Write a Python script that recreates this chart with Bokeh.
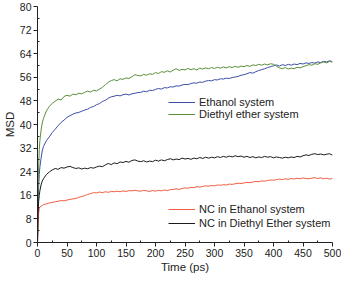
from bokeh.plotting import figure
from bokeh.models import Range1d, FixedTicker, Legend, LegendItem
from bokeh.embed import file_html
from bokeh.resources import INLINE

time_ps = [0, 1, 2, 3, 4, 6, 8,
           10, 15, 20, 25, 30, 35, 40, 45, 50, 55,
           60, 65, 70, 75, 80, 85, 90, 95, 100, 105,
           110, 115, 120, 125, 130, 135, 140, 145, 150, 155,
           160, 165, 170, 175, 180, 185, 190, 195, 200, 205,
           210, 215, 220, 225, 230, 235, 240, 245, 250, 255,
           260, 265, 270, 275, 280, 285, 290, 295, 300, 305,
           310, 315, 320, 325, 330, 335, 340, 345, 350, 355,
           360, 365, 370, 375, 380, 385, 390, 395, 400, 405,
           410, 415, 420, 425, 430, 435, 440, 445, 450, 455,
           460, 465, 470, 475, 480, 485, 490, 495, 500]

ethanol = [0, 12, 19, 23, 25.5, 28.5, 31,
           32.5, 34.5, 35.8, 37.3, 38.4, 39.6, 40.7, 41.5, 42.4, 43.0,
           43.5, 43.9, 44.1, 44.5, 44.9, 45.2, 45.8, 46.1, 46.7, 47.1,
           47.8, 48.2, 48.9, 49.4, 49.6, 49.9, 49.7, 50.1, 50.3, 50.0,
           50.4, 50.6, 50.8, 50.9, 51.3, 51.1, 51.6, 51.5, 51.9, 52.2,
           52.0, 52.5, 52.4, 52.8, 52.7, 53.1, 53.0, 53.4, 53.6, 53.5,
           53.9, 54.1, 54.0, 54.4, 54.3, 54.7, 54.9, 54.8, 55.2, 55.1,
           55.5, 55.4, 55.7, 55.6, 55.9, 56.1, 56.3, 56.7, 56.9, 57.2,
           57.6, 57.4, 57.9, 58.3, 58.6, 58.9, 59.3, 59.6, 59.9, 60.2,
           59.8, 60.3, 60.0, 60.4, 60.1, 60.5, 60.3, 60.7, 60.5, 60.9,
           60.7, 61.0, 60.8, 61.2, 61.0, 61.4, 61.2, 61.6, 61.3]

diethyl_ether = [0, 17, 26, 31.5, 34.5, 38, 40.5,
                 42, 44.6, 46.1, 47.2, 47.9, 48.6, 48.3, 49.5, 49.9, 49.6,
                 50.3, 50.1, 50.6, 50.4, 50.9, 51.3, 51.0, 51.6, 51.4, 52.0,
                 52.6, 53.5, 54.3, 54.9, 55.2, 54.8, 55.5, 55.3, 55.8, 55.6,
                 56.2, 56.9, 56.6, 56.5, 57.0, 56.7, 57.2, 57.0, 57.6, 57.3,
                 57.9, 57.7, 58.2, 57.8, 58.4, 58.9, 58.3, 58.7, 58.5, 59.0,
                 58.6, 58.9, 58.5, 59.1, 58.8, 59.2, 58.9, 59.3, 59.0, 59.4,
                 59.1, 59.5, 59.2, 59.6, 59.3, 59.7, 59.4, 59.8, 59.6, 60.0,
                 59.7, 60.2, 60.0, 60.4, 60.1, 60.5, 60.2, 60.6, 60.4, 59.8,
                 59.2, 58.9, 59.3, 58.8, 59.1, 58.9, 59.4, 59.2, 59.6, 59.9,
                 60.3, 60.1, 60.6, 60.4, 60.9, 61.2, 60.9, 61.4, 61.1]

nc_ethanol = [0, 6, 10, 11.5, 12.0, 12.3, 12.6,
              12.8, 13.1, 13.4, 13.6, 13.8, 14.0, 14.2, 14.1, 14.4, 14.6,
              14.8, 14.9, 15.3, 15.6, 15.9, 16.3, 16.6, 16.9, 16.8, 17.1,
              16.9, 17.2, 17.0, 17.3, 17.2, 17.4, 17.2, 17.5, 17.3, 17.6,
              17.5, 17.7, 17.5, 17.4, 17.7, 17.5, 17.3, 17.6, 17.4, 17.7,
              17.5, 17.8, 17.6, 17.9, 18.0, 18.2, 18.0, 18.3, 18.5, 18.4,
              18.7, 18.6, 18.9, 18.8, 19.0, 19.2, 19.1, 19.3, 19.2, 19.5,
              19.4, 19.6, 19.5, 19.8, 19.7, 19.9, 20.1, 20.0, 20.2, 20.4,
              20.3, 20.5, 20.7, 20.6, 20.9, 20.8, 21.0, 21.2, 21.1, 21.3,
              21.5, 21.3, 21.6, 21.4, 21.7, 21.5, 21.8, 21.6, 21.9, 21.7,
              21.6, 21.8, 22.0, 21.7, 21.9, 21.6, 21.8, 21.5, 21.7]

nc_diethyl_ether = [0, 10, 14, 16, 17.5, 19.5, 20.8,
                    21.6, 23.0, 23.9, 24.6, 25.1, 24.8, 25.4, 25.2, 25.6, 25.8,
                    25.4, 25.1, 25.3, 24.9, 25.2, 25.0, 25.4, 25.2, 25.6, 25.9,
                    25.7, 26.3, 26.8, 26.4, 27.0, 26.7, 27.3, 27.1, 27.5, 27.2,
                    27.8, 28.0, 27.6, 27.4, 27.7, 27.3, 27.6, 27.4, 27.9, 27.6,
                    28.0, 27.7, 28.1, 28.4, 28.0, 28.3, 28.1, 28.6, 28.3, 28.5,
                    28.2, 28.6, 28.4, 28.8, 28.5, 28.9, 28.6, 28.9, 28.7, 29.1,
                    28.8, 29.2, 28.9, 29.3, 29.0, 29.4, 29.1, 29.3, 28.9, 29.2,
                    28.8, 29.1, 28.7, 29.0, 28.8, 29.2, 28.9, 29.1, 28.7, 29.0,
                    28.8, 28.6, 28.9, 28.7, 29.0, 28.8, 29.2, 29.0, 29.4, 29.7,
                    29.5, 29.9, 30.1, 29.8, 30.0, 29.7, 29.9, 30.1, 29.6]

x_ticks = [0, 50, 100, 150, 200, 250, 300, 350, 400, 450, 500]
x_minor = [25, 75, 125, 175, 225, 275, 325, 375, 425, 475]
y_ticks = [0, 8, 16, 24, 32, 40, 48, 56, 64, 72, 80]
y_minor = [4, 12, 20, 28, 36, 44, 52, 60, 68, 76]

FONT = "Liberation Sans"

p = figure(width=341, height=275, output_backend="svg", toolbar_location=None,
           x_range=Range1d(0, 500), y_range=Range1d(0, 80),
           min_border_left=5, min_border_right=9, min_border_top=6, min_border_bottom=5)
p.xgrid.visible = False
p.ygrid.visible = False
p.outline_line_color = None
p.background_fill_color = "white"

rb = p.line(time_ps, ethanol, line_color="#3d4ea6", line_width=1)
rg = p.line(time_ps, diethyl_ether, line_color="#5a8e3a", line_width=1)
rr = p.line(time_ps, nc_ethanol, line_color="#f25c40", line_width=1)
rk = p.line(time_ps, nc_diethyl_ether, line_color="#1c1c1c", line_width=1)

for ax, tk, mn in ((p.xaxis[0], x_ticks, x_minor), (p.yaxis[0], y_ticks, y_minor)):
    ax.ticker = FixedTicker(ticks=tk, minor_ticks=mn)
    ax.axis_line_color = "#222222"
    ax.major_tick_line_color = "#222222"
    ax.minor_tick_line_color = "#222222"
    ax.major_tick_out = 4
    ax.major_tick_in = 0
    ax.minor_tick_out = 0
    ax.minor_tick_in = 2
    ax.major_label_text_font = FONT
    ax.major_label_text_font_size = "10.5px"
    ax.major_label_text_color = "#222222"
    ax.axis_label_text_font = FONT
    ax.axis_label_text_font_size = "11.5px"
    ax.axis_label_text_font_style = "normal"
    ax.axis_label_text_color = "#222222"
    ax.major_label_standoff = 2
    ax.axis_label_standoff = 1

p.xaxis.axis_label = "Time (ps)"
p.yaxis.axis_label = "MSD"
p.yaxis.major_label_orientation = "horizontal"


def make_legend(items, loc, spacing):
    lg = Legend(items=items, location=loc, orientation="vertical",
                border_line_alpha=0, background_fill_alpha=0,
                padding=0, margin=0, spacing=spacing,
                glyph_width=27, glyph_height=12, label_height=12,
                label_standoff=4, label_text_font=FONT,
                label_text_font_size="11px", label_text_color="#222222")
    return lg


leg1 = make_legend([LegendItem(label="Ethanol system", renderers=[rb]),
                    LegendItem(label="Diethyl ether system", renderers=[rg])],
                   (131, 122), 0)
leg2 = make_legend([LegendItem(label="NC in Ethanol system", renderers=[rr]),
                    LegendItem(label="NC in Diethyl Ether system", renderers=[rk])],
                   (131, 13), 2)
p.add_layout(leg1, "center")
p.add_layout(leg2, "center")

open("out.html", "w").write(file_html(p, INLINE))
